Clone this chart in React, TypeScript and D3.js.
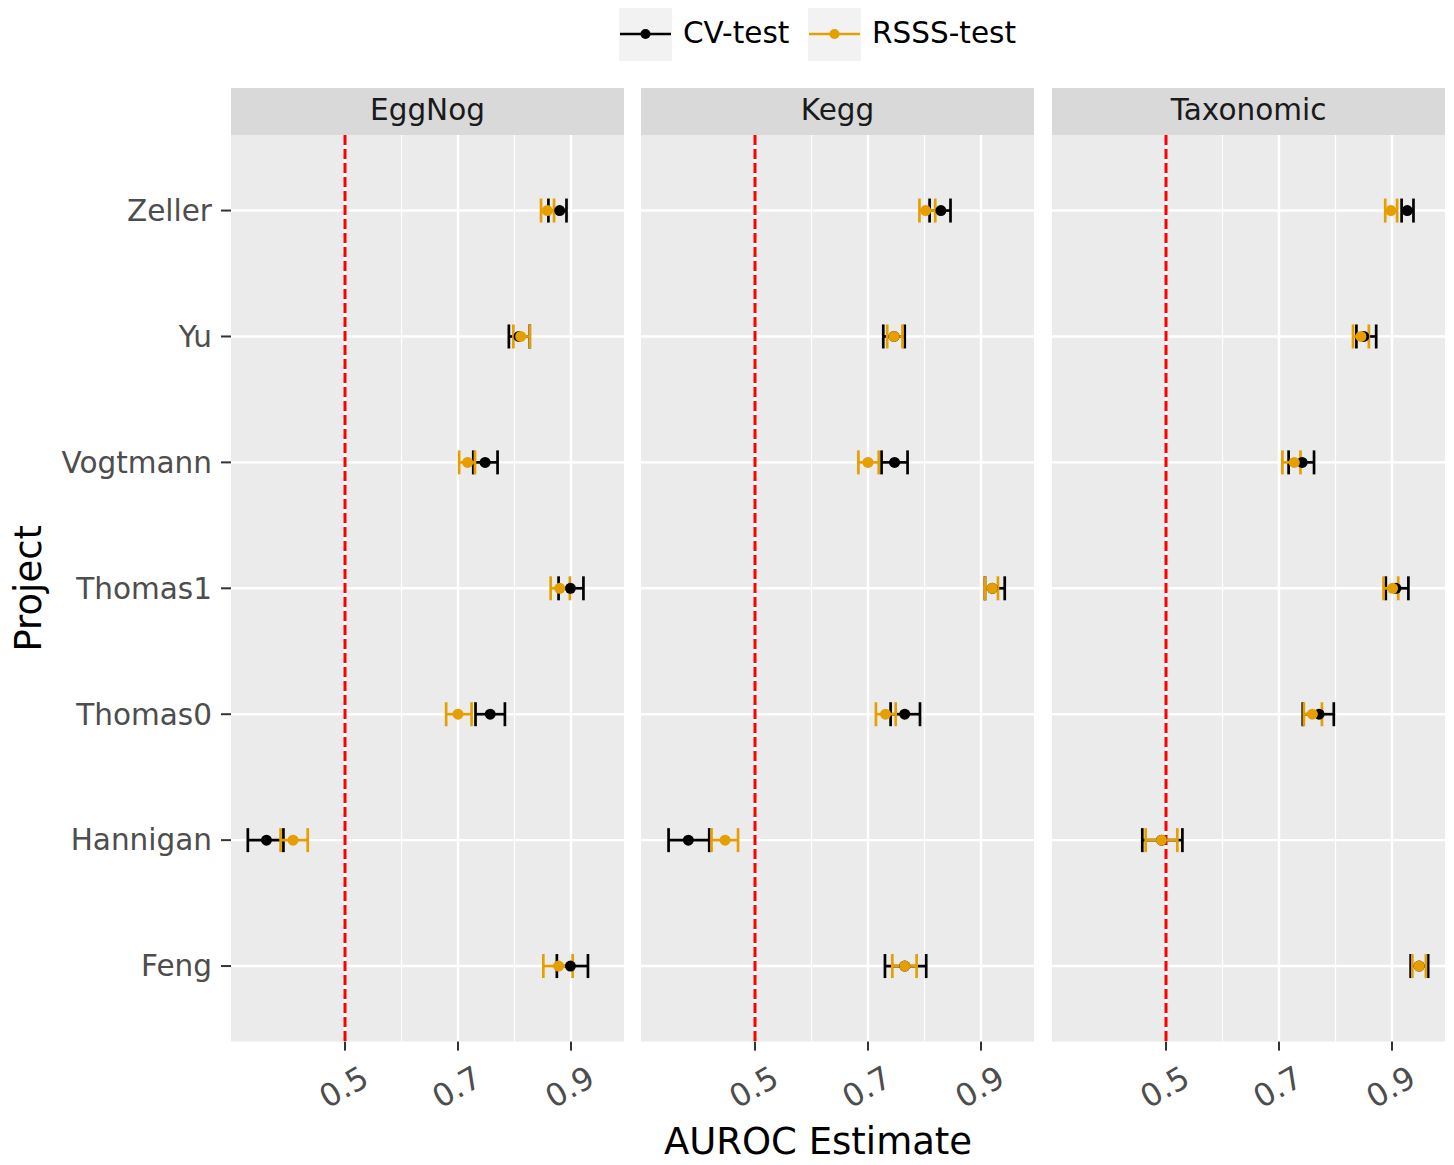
import React from 'react';
import * as d3 from 'd3';

// categories (top to bottom) and facets
const projects = ['Zeller', 'Yu', 'Vogtmann', 'Thomas1', 'Thomas0', 'Hannigan', 'Feng'];
const panels = ['EggNog', 'Kegg', 'Taxonomic'];
const seriesNames = ['CV-test', 'RSSS-test'];
const xTicks = [0.5, 0.7, 0.9];
const xMinor = [0.6, 0.8];

// [estimate, lower, upper] per project, in the order of `projects`
const eggnogCV = [[0.880, 0.860, 0.892], [0.808, 0.790, 0.827], [0.748, 0.727, 0.770], [0.899, 0.878, 0.922], [0.757, 0.731, 0.783], [0.361, 0.328, 0.391], [0.899, 0.875, 0.930]];
const eggnogRSSS = [[0.858, 0.847, 0.870], [0.811, 0.798, 0.827], [0.717, 0.702, 0.730], [0.880, 0.864, 0.898], [0.700, 0.679, 0.724], [0.408, 0.386, 0.434], [0.878, 0.851, 0.903]];
const keggCV = [[0.829, 0.809, 0.846], [0.746, 0.727, 0.765], [0.747, 0.724, 0.770], [0.920, 0.907, 0.942], [0.765, 0.740, 0.792], [0.382, 0.347, 0.419], [0.765, 0.730, 0.803]];
const keggRSSS = [[0.802, 0.791, 0.819], [0.746, 0.734, 0.761], [0.700, 0.683, 0.719], [0.920, 0.907, 0.930], [0.731, 0.714, 0.749], [0.447, 0.423, 0.470], [0.765, 0.743, 0.786]];
const taxCV = [[0.927, 0.917, 0.938], [0.850, 0.837, 0.872], [0.741, 0.717, 0.762], [0.907, 0.889, 0.929], [0.771, 0.742, 0.797], [0.492, 0.458, 0.529], [0.948, 0.933, 0.964]];
const taxRSSS = [[0.898, 0.888, 0.909], [0.845, 0.831, 0.859], [0.727, 0.706, 0.738], [0.901, 0.885, 0.911], [0.759, 0.744, 0.776], [0.492, 0.464, 0.520], [0.948, 0.936, 0.960]];

const panelData = [[eggnogCV, eggnogRSSS], [keggCV, keggRSSS], [taxCV, taxRSSS]];
const colors = ['#000000', '#E69F00'];

const W = 1454, H = 1165;
const panelLefts = [231, 641, 1052];
const panelW = 393;
const stripTop = 88, panelTop = 135, panelBottom = 1041.6;
const font = 'DejaVu Sans, sans-serif';

export default function App() {
  const x = d3.scaleLinear().domain([0.2982, 0.9938]).range([0, panelW]);
  const y = d3.scalePoint().domain(projects).range([panelTop, panelBottom]).padding(0.6);
  const capH = 24;

  return (
    <svg width={W} height={H} style={{ position: 'absolute', left: 0, top: 0, background: '#fff' }} fontFamily={font}>
      {/* legend */}
      {seriesNames.map((s, i) => {
        const lx = [619, 808][i];
        return (
          <g key={s}>
            <rect x={lx} y={8} width={53} height={53} fill="#f2f2f2" />
            <line x1={lx + 1} x2={lx + 52} y1={34} y2={34} stroke={colors[i]} strokeWidth={2.5} />
            <circle cx={lx + 26.5} cy={34} r={5} fill={colors[i]} />
            <text x={lx + 64} y={32.5} dy="0.35em" fontSize={29.5} fill="#000">{s}</text>
          </g>
        );
      })}

      {panels.map((p, pi) => {
        const left = panelLefts[pi];
        return (
          <g key={p} transform={`translate(${left},0)`}>
            <rect x={0} y={stripTop} width={panelW} height={panelTop - stripTop} fill="#d9d9d9" />
            <text x={panelW / 2} y={(stripTop + panelTop) / 2 - 2} dy="0.35em" textAnchor="middle" fontSize={29.5} fill="#1a1a1a">{p}</text>
            <rect x={0} y={panelTop} width={panelW} height={panelBottom - panelTop} fill="#ebebeb" />
            {xMinor.map(t => (
              <line key={'m' + t} x1={x(t)} x2={x(t)} y1={panelTop} y2={panelBottom} stroke="#fff" strokeWidth={1.2} />
            ))}
            {xTicks.map(t => (
              <line key={'M' + t} x1={x(t)} x2={x(t)} y1={panelTop} y2={panelBottom} stroke="#fff" strokeWidth={2.4} />
            ))}
            {projects.map(pr => (
              <line key={pr} x1={0} x2={panelW} y1={y(pr)} y2={y(pr)} stroke="#fff" strokeWidth={2.4} />
            ))}
            <line x1={x(0.5)} x2={x(0.5)} y1={panelTop} y2={panelBottom} stroke="#ff0000" strokeWidth={3} strokeDasharray="10,4" />

            {/* error bars */}
            {panelData[pi].map((ser, si) => (
              <g key={'e' + si} stroke={colors[si]} strokeWidth={2.7} fill="none">
                {ser.map((d, j) => {
                  const cy = y(projects[j])!;
                  return (
                    <g key={j}>
                      <line x1={x(d[1])} x2={x(d[2])} y1={cy} y2={cy} />
                      <line x1={x(d[1])} x2={x(d[1])} y1={cy - capH / 2} y2={cy + capH / 2} />
                      <line x1={x(d[2])} x2={x(d[2])} y1={cy - capH / 2} y2={cy + capH / 2} />
                    </g>
                  );
                })}
              </g>
            ))}
            {/* points */}
            {panelData[pi].map((ser, si) => (
              <g key={'p' + si} fill={colors[si]}>
                {ser.map((d, j) => (
                  <circle key={j} cx={x(d[0])} cy={y(projects[j])!} r={5.5} />
                ))}
              </g>
            ))}

            {/* x axis */}
            {xTicks.map(t => (
              <g key={'t' + t}>
                <line x1={x(t)} x2={x(t)} y1={panelBottom} y2={panelBottom + 9} stroke="#333" strokeWidth={2} />
                <g transform={`translate(${x(t) + 14},${panelBottom + 22}) rotate(-30)`}>
                  <text textAnchor="end" dy="0.75em" fontSize={31.5} fill="#4d4d4d">{t.toFixed(1)}</text>
                </g>
              </g>
            ))}
          </g>
        );
      })}

      {/* y axis */}
      {projects.map(pr => (
        <g key={pr}>
          <line x1={221} x2={231} y1={y(pr)} y2={y(pr)} stroke="#333" strokeWidth={2} />
          <text x={212} y={y(pr)} dy="0.35em" textAnchor="end" fontSize={29.5} fill="#4d4d4d">{pr}</text>
        </g>
      ))}

      <text x={818} y={1154} textAnchor="middle" fontSize={37} fill="#000">AUROC Estimate</text>
      <text transform={`translate(41,${(panelTop + panelBottom) / 2}) rotate(-90)`} textAnchor="middle" fontSize={37} fill="#000">Project</text>
    </svg>
  );
}
